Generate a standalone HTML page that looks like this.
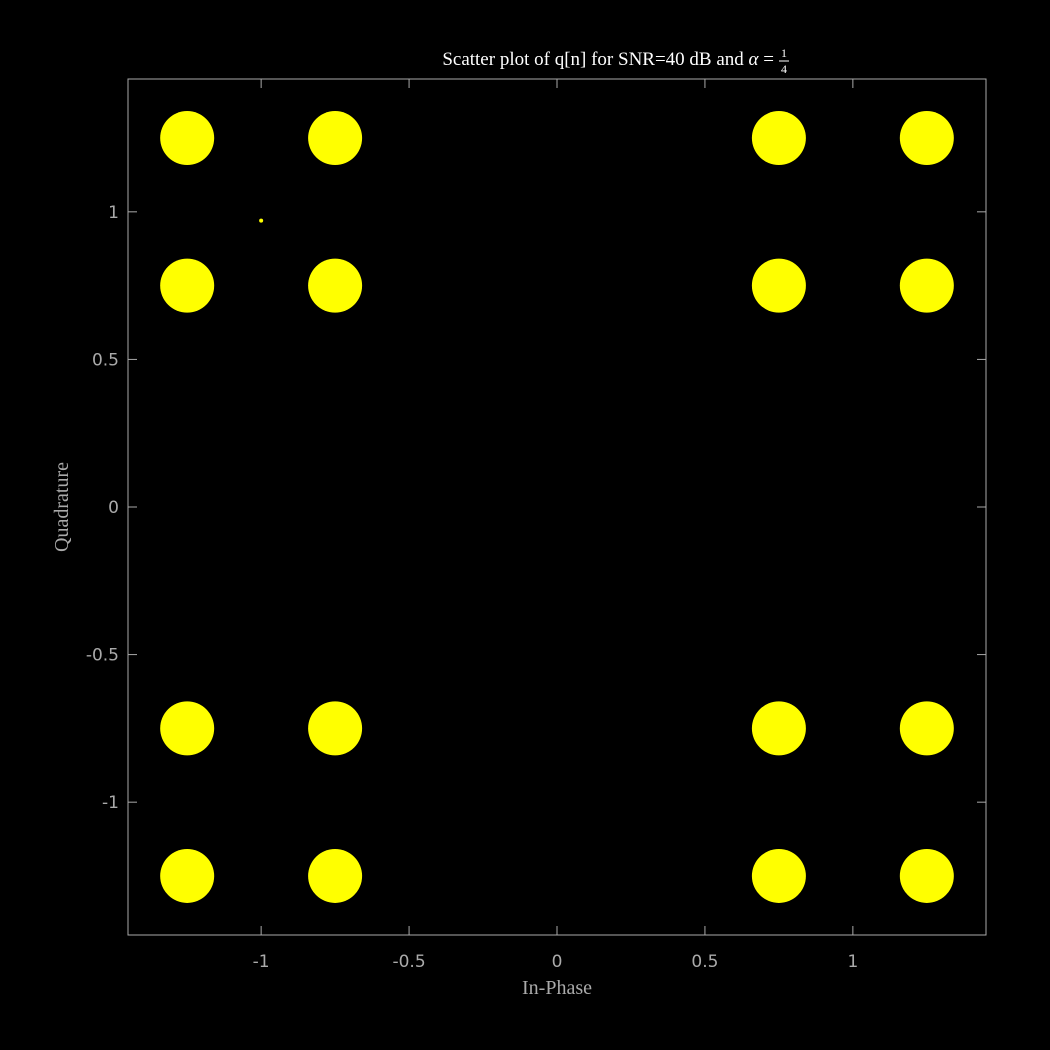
<!DOCTYPE html>
<html><head><meta charset="utf-8"><style>
html,body{margin:0;padding:0;background:#000;}
svg{display:block;}
</style></head><body>
<svg id="chart" width="1050" height="1050" xmlns="http://www.w3.org/2000/svg">
<rect width="1050" height="1050" fill="#000"/>
<g id="marks"></g>
<rect x="128" y="79" width="858" height="856" fill="none" stroke="#aaa" stroke-width="1"/>
<g id="axes"></g>
<text x="557" y="65" fill="#fff" font-family="Liberation Serif, serif" font-size="19" text-anchor="end"><tspan x="774" text-anchor="end">Scatter plot of q[n] for SNR=40 dB and <tspan font-style="italic">α</tspan> =</tspan></text>
<text x="784" y="57" fill="#fff" font-family="Liberation Serif, serif" font-size="12" text-anchor="middle">1</text>
<line x1="779" y1="61" x2="789" y2="61" stroke="#fff" stroke-width="1"/>
<text x="784" y="73" fill="#fff" font-family="Liberation Serif, serif" font-size="12" text-anchor="middle">4</text>
<text x="557" y="994" fill="#aaa" font-family="Liberation Serif, serif" font-size="20" text-anchor="middle">In-Phase</text>
<text x="0" y="0" transform="translate(68,507) rotate(-90)" fill="#aaa" font-family="Liberation Serif, serif" font-size="20" text-anchor="middle">Quadrature</text>
</svg>
<script>
const clusterI = [-1.25,-0.75,0.75,1.25,-1.25,-0.75,0.75,1.25,-1.25,-0.75,0.75,1.25,-1.25,-0.75,0.75,1.25];
const clusterQ = [1.25,1.25,1.25,1.25,0.75,0.75,0.75,0.75,-0.75,-0.75,-0.75,-0.75,-1.25,-1.25,-1.25,-1.25];
const outlierI = [-1.0];
const outlierQ = [0.97];
const xTicks = [-1,-0.5,0,0.5,1];
const xTickLabels = ["-1","-0.5","0","0.5","1"];
const yTicks = [-1,-0.5,0,0.5,1];
const yTickLabels = ["-1","-0.5","0","0.5","1"];
const NS='http://www.w3.org/2000/svg';
const X0=128,X1=986,Y0=79,Y1=935,XMIN=-1.45,XMAX=1.45,YMIN=-1.45,YMAX=1.45;
function sx(v){return X0+(v-XMIN)/(XMAX-XMIN)*(X1-X0);}
function sy(v){return Y1-(v-YMIN)/(YMAX-YMIN)*(Y1-Y0);}
const marks=document.getElementById('marks');
const axes=document.getElementById('axes');
for(let i=0;i<clusterI.length;i++){
  const c=document.createElementNS(NS,'circle');
  c.setAttribute('cx',sx(clusterI[i]));c.setAttribute('cy',sy(clusterQ[i]));
  c.setAttribute('r',27);c.setAttribute('fill','#ffff00');
  
  
  marks.appendChild(c);
}
for(let i=0;i<outlierI.length;i++){
  const c=document.createElementNS(NS,'circle');
  c.setAttribute('cx',sx(outlierI[i]));c.setAttribute('cy',sy(outlierQ[i]));
  c.setAttribute('r',2);c.setAttribute('fill','#ffff00');
  
  
  marks.appendChild(c);
}
function mk(tag,attrs){const e=document.createElementNS(NS,tag);for(const k in attrs)e.setAttribute(k,attrs[k]);return e;}
xTicks.forEach((v,i)=>{
  const x=sx(v);
  const t1=mk('line',{x1:x,x2:x,y1:Y1,y2:Y1-9,stroke:'#aaa'});
  
  
  axes.appendChild(t1);
  const t2=mk('line',{x1:x,x2:x,y1:Y0,y2:Y0+9,stroke:'#aaa'});
  
  
  axes.appendChild(t2);
  const l=mk('text',{x:x,y:967,fill:'#aaa','font-family':'DejaVu Sans, sans-serif','font-size':'17','text-anchor':'middle'});
  l.textContent=xTickLabels[i];
  
  
  axes.appendChild(l);
});
yTicks.forEach((v,i)=>{
  const y=sy(v);
  const t1=mk('line',{x1:X0,x2:X0+9,y1:y,y2:y,stroke:'#aaa'});
  
  
  axes.appendChild(t1);
  const t2=mk('line',{x1:X1,x2:X1-9,y1:y,y2:y,stroke:'#aaa'});
  
  
  axes.appendChild(t2);
  const l=mk('text',{x:119,y:y+6,fill:'#aaa','font-family':'DejaVu Sans, sans-serif','font-size':'17','text-anchor':'end'});
  l.textContent=yTickLabels[i];
  
  
  axes.appendChild(l);
});
</script>
</body></html>
